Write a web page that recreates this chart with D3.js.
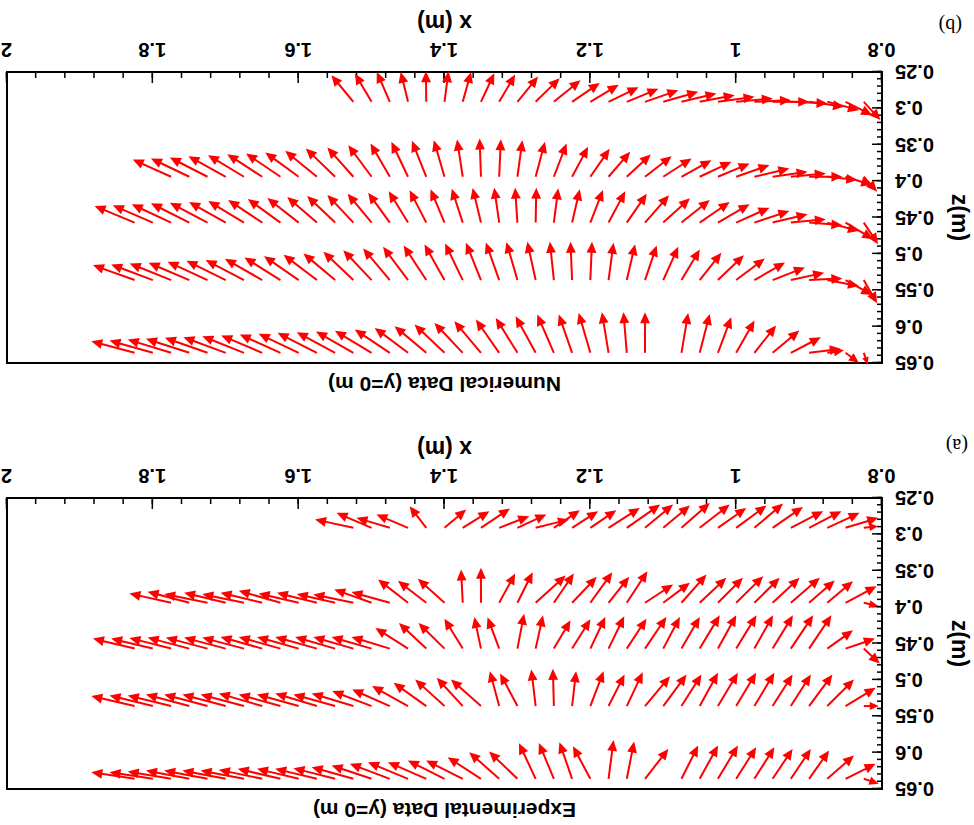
<!DOCTYPE html>
<html>
<head>
<meta charset="utf-8">
<script src="https://cdn.jsdelivr.net/npm/d3@7"></script>
<style>
body { margin: 0; background: #fff; }
svg { display: block; }
.tick line { stroke: #000; stroke-width: 1.5; }
.tick text { font-family: "Liberation Sans", Arial, sans-serif; font-weight: bold; font-size: 20px; fill: #000; }
.ttl { font-family: "Liberation Sans", Arial, sans-serif; font-weight: bold; fill: #000; }
.tag { font-family: "Liberation Serif", "Times New Roman", serif; font-size: 20px; fill: #000; }
</style>
</head>
<body>
<svg id="fig" width="974" height="825"></svg>
<script>
// QUIVER FIGURE : EXPERIMENTAL (a) / NUMERICAL (b) VELOCITY AT y=0


// GRID OF MEASUREMENT POINTS
var xGrid = [1.825, 1.8, 1.775, 1.75, 1.725, 1.7, 1.675, 1.65, 1.625, 1.6, 1.575, 1.55,
	1.525, 1.5, 1.475, 1.45, 1.425, 1.4, 1.375, 1.35, 1.325, 1.3, 1.275, 1.25, 1.225,
	1.2, 1.175, 1.15, 1.125, 1.1, 1.075, 1.05, 1.025, 1.0, 0.975, 0.95, 0.925, 0.9,
	0.875, 0.85, 0.825];
var zRows = [0.291, 0.394, 0.457, 0.536, 0.636];

var xTicks = [0.8, 1, 1.2, 1.4, 1.6, 1.8, 2];
var zTicks = [0.25, 0.3, 0.35, 0.4, 0.45, 0.5, 0.55, 0.6, 0.65];

// VELOCITY [u, w] (m/s) ALONG xGrid, null = no point
var exp1 = [null, null, null, null, null, null, null, null, null, null, null, null,
	[1.15,-0.25],[1.05,-0.45],[1.00,-0.30],[0.95,-0.40],[0.50,-0.65],[-0.65,-0.55],[-0.80,-0.50],
	[-0.87,-0.58],[-0.90,-0.35],[-0.87,-0.40],[-1.00,-0.25],[-0.78,-0.53],[-0.78,-0.50],[-0.78,-0.53],
	[-0.94,-0.60],[-1.00,-0.70],[-0.84,-0.70],[-0.80,-0.67],[-0.85,-0.75],[-0.90,-0.70],[-0.85,-0.60],
	[-0.91,-0.67],[-0.86,-0.73],[-0.91,-0.63],[-0.97,-0.50],[-0.97,-0.50],[-0.97,-0.45],[-0.98,-0.30],
	[-0.43,-0.05]];
var exp2 = [null, null,
	[1.25,-0.28],[1.25,-0.33],[1.30,-0.26],[1.25,-0.30],[1.25,-0.26],[1.25,-0.30],[1.25,-0.36],
	[1.20,-0.28],[1.20,-0.30],[1.15,-0.26],[1.20,-0.25],[1.12,-0.40],[1.15,-0.32],[0.90,-0.70],
	[0.85,-0.66],[0.80,-0.72],[0.05,-1.00],[0.00,-1.05],[-0.48,-0.88],[-0.46,-0.92],[-0.90,-0.82],
	[-0.60,-0.88],[-0.74,-0.78],[-0.66,-0.92],[-0.62,-0.78],[-0.62,-0.95],[-0.84,-0.55],[-0.80,-0.60],
	[-0.75,-0.85],[-0.80,-0.75],[-0.75,-0.75],[-0.81,-0.80],[-0.76,-0.75],[-0.81,-0.75],[-0.87,-0.75],
	[-0.77,-0.67],[-0.77,-0.65],[-0.93,-0.50],[-0.43,0.10]];
var exp3 = [[1.25,-0.30],[1.25,-0.30],[1.25,-0.32],[1.25,-0.33],[1.25,-0.33],[1.25,-0.33],[1.25,-0.33],
	[1.25,-0.35],[1.25,-0.35],[1.25,-0.35],[1.25,-0.35],[1.20,-0.35],[1.20,-0.35],[1.20,-0.35],
	[1.15,-0.35],[0.98,-0.62],[0.82,-0.77],[0.78,-0.77],[0.55,-0.90],[0.20,-0.95],[0.35,-0.94],
	[-0.20,-1.05],[-0.22,-1.00],[-0.50,-0.85],[-0.55,-0.88],[-0.45,-0.95],[-0.47,-0.97],[-0.59,-0.90],
	[-0.64,-0.95],[-0.50,-0.95],[-0.55,-0.95],[-0.60,-1.00],[-0.55,-1.00],[-0.61,-1.00],[-0.56,-1.00],
	[-0.61,-1.00],[-0.67,-1.00],[-0.67,-1.00],[-0.77,-0.55],[-0.88,-0.30],[-0.48,0.45]];
var exp4 = [[1.30,-0.30],[1.30,-0.32],[1.30,-0.32],[1.30,-0.35],[1.30,-0.35],[1.30,-0.35],[1.30,-0.35],
	[1.30,-0.38],[1.25,-0.35],[1.25,-0.35],[1.25,-0.38],[1.25,-0.35],[1.25,-0.38],[1.18,-0.45],
	[1.13,-0.50],[1.08,-0.60],[0.98,-0.70],[0.88,-0.80],[0.78,-0.85],[0.90,-0.80],[0.28,-1.05],
	[0.52,-0.98],[0.13,-1.10],[0.03,-1.12],[-0.12,-1.05],[-0.40,-1.05],[-0.48,-0.95],[-0.48,-1.02],
	[-0.75,-0.90],[-0.70,-0.95],[-0.60,-0.95],[-0.55,-1.00],[-0.60,-1.00],[-0.60,-1.00],[-0.60,-1.00],
	[-0.60,-0.95],[-0.60,-0.95],[-0.70,-0.95],[-0.80,-0.80],[-0.90,-0.55],[-0.45,0.00]];
var exp5 = [[1.30,-0.20],[1.30,-0.20],[1.30,-0.22],[1.30,-0.25],[1.30,-0.25],[1.30,-0.25],[1.30,-0.25],
	[1.30,-0.27],[1.28,-0.30],[1.25,-0.30],[1.25,-0.30],[1.25,-0.32],[1.25,-0.35],[1.20,-0.40],
	[1.20,-0.45],[1.20,-0.50],[1.15,-0.50],[1.10,-0.55],[1.10,-0.55],[1.00,-0.65],[0.90,-0.80],
	[0.85,-0.82],[0.50,-1.07],[0.45,-1.08],[0.38,-1.10],[0.52,-0.98],[-0.15,-1.17],[-0.22,-1.12],
	[-0.70,-0.90],null,[-0.50,-1.00],[-0.55,-1.00],[-0.60,-1.00],[-0.60,-0.95],[-0.60,-0.95],
	[-0.60,-0.90],[-0.60,-0.90],[-0.60,-0.85],[-0.80,-0.70],[-0.90,-0.45],[-0.45,0.15]];

var num1 = [null, null, null, null, null, null, null, null, null, null, null, null,
	[0.66,-0.80],[0.50,-0.85],[0.39,-0.90],[0.22,-0.90],[0.01,-0.92],[-0.12,-0.92],[-0.25,-0.90],
	[-0.40,-0.86],[-0.48,-0.82],[-0.62,-0.76],[-0.72,-0.71],[-0.80,-0.65],[-0.83,-0.57],[-0.85,-0.51],
	[-0.90,-0.44],[-0.95,-0.39],[-1.00,-0.35],[-1.05,-0.30],[-1.05,-0.25],[-1.05,-0.20],[-1.10,-0.15],
	[-1.10,-0.10],[-1.10,-0.05],[-1.10,0.00],[-1.10,0.05],[-1.05,0.15],[-0.95,0.25],[-0.80,0.40],
	[-0.50,0.55]];
var num2 = [null, null,
	[1.15,-0.52],[1.15,-0.55],[1.13,-0.58],[1.12,-0.62],[1.08,-0.65],[1.05,-0.68],[1.03,-0.70],
	[1.00,-0.73],[0.95,-0.78],[0.88,-0.85],[0.78,-0.88],[0.70,-0.95],[0.58,-1.00],[0.50,-1.05],
	[0.43,-1.08],[0.32,-1.10],[0.17,-1.12],[0.04,-1.15],[-0.05,-1.13],[-0.15,-1.10],[-0.28,-1.05],
	[-0.38,-1.00],[-0.48,-0.90],[-0.58,-0.84],[-0.65,-0.75],[-0.72,-0.67],[-0.80,-0.62],[-0.85,-0.55],
	[-0.90,-0.50],[-0.95,-0.45],[-0.95,-0.40],[-1.00,-0.35],[-1.05,-0.25],[-1.05,-0.15],[-1.05,-0.10],
	[-1.00,0.00],[-0.90,0.10],[-0.80,0.25],[-0.40,0.45]];
var num3 = [[1.20,-0.50],[1.20,-0.52],[1.18,-0.55],[1.15,-0.58],[1.13,-0.60],[1.10,-0.62],[1.07,-0.65],
	[1.02,-0.68],[0.98,-0.71],[0.94,-0.74],[0.89,-0.77],[0.84,-0.80],[0.78,-0.83],[0.72,-0.87],
	[0.65,-0.90],[0.58,-0.94],[0.50,-0.97],[0.42,-1.00],[0.33,-1.02],[0.25,-1.04],[0.15,-1.05],
	[0.07,-1.05],[-0.02,-1.05],[-0.13,-1.03],[-0.23,-1.00],[-0.38,-0.98],[-0.50,-0.94],[-0.60,-0.87],
	[-0.72,-0.82],[-0.80,-0.73],[-0.85,-0.68],[-0.90,-0.62],[-0.95,-0.55],[-1.00,-0.45],[-1.05,-0.35],
	[-1.05,-0.25],[-1.05,-0.10],[-1.00,0.08],[-0.95,0.25],[-0.83,0.50],[-0.43,0.65]];
var num4 = [[1.25,-0.45],[1.25,-0.47],[1.24,-0.50],[1.22,-0.52],[1.20,-0.55],[1.18,-0.58],[1.15,-0.60],
	[1.12,-0.64],[1.08,-0.68],[1.04,-0.72],[1.00,-0.76],[0.95,-0.80],[0.90,-0.85],[0.85,-0.90],
	[0.80,-0.95],[0.75,-1.00],[0.68,-1.04],[0.60,-1.07],[0.53,-1.10],[0.45,-1.12],[0.40,-1.13],
	[0.33,-1.14],[0.25,-1.15],[0.12,-1.15],[0.05,-1.15],[-0.05,-1.15],[-0.15,-1.12],[-0.25,-1.08],
	[-0.35,-1.04],[-0.45,-1.00],[-0.55,-0.92],[-0.65,-0.82],[-0.78,-0.75],[-0.86,-0.65],[-0.92,-0.53],
	[-0.97,-0.38],[-1.00,-0.22],[-1.00,-0.05],[-0.95,0.18],[-0.80,0.45],[-0.40,0.70]];
var num5 = [[1.30,-0.35],[1.30,-0.37],[1.30,-0.40],[1.30,-0.42],[1.28,-0.45],[1.27,-0.47],[1.25,-0.50],
	[1.23,-0.52],[1.22,-0.55],[1.20,-0.57],[1.18,-0.60],[1.15,-0.62],[1.12,-0.64],[1.10,-0.66],
	[1.05,-0.70],[1.00,-0.75],[0.95,-0.80],[0.90,-0.85],[0.85,-0.90],[0.80,-0.95],[0.70,-1.00],
	[0.65,-1.05],[0.60,-1.10],[0.50,-1.15],[0.40,-1.15],[0.35,-1.20],[0.20,-1.22],[0.10,-1.22],
	[0.00,-1.22],null,[-0.20,-1.20],[-0.30,-1.17],[-0.40,-1.07],[-0.55,-0.97],[-0.65,-0.82],
	[-0.80,-0.67],[-0.90,-0.47],[-0.95,-0.12],[-0.50,-0.08],[-0.40,0.30],[-0.12,0.35]];


// DRAWING AREA
var plotLeft = 92;
var plotWidth = 875;
var plotHeight = 291;
var arrowScale = 0.0457;   // m of arrow per m/s
var headLen = 11;

var panels = [
	{ title: "Experimental Data (y=0 m)", tag: "(a)", top: 36, tagX: 6, tagDy: 59, rows: [exp1, exp2, exp3, exp4, exp5] },
	{ title: "Numerical Data (y=0 m)", tag: "(b)", top: 462, tagX: 12, tagDy: 53, rows: [num1, num2, num3, num4, num5] }
];

var svg = d3.select("#fig");
svg.append("rect").attr("width", 974).attr("height", 825).attr("fill", "#fff");

// the whole figure is shown upside down
var fig = svg.append("g").attr("transform", "rotate(180,487,412.5)");

var xScale = d3.scaleLinear().domain([0.8, 2]).range([plotLeft, plotLeft + plotWidth]);

panels.forEach(function(p) { drawPanel(p); });

function drawPanel(p) {
	var bottom = p.top + plotHeight;
	var zScale = d3.scaleLinear().domain([0.25, 0.65]).range([bottom, p.top]);
	var g = fig.append("g");

	// MINOR TICKS
	g.append("g")
		.attr("transform", "translate(0," + bottom + ")")
		.call(d3.axisBottom(xScale).tickValues(d3.range(0.8, 2.001, 0.04)).tickFormat("")
			.tickSizeInner(-6).tickSizeOuter(0))
		.select(".domain").remove();
	g.append("g")
		.attr("transform", "translate(" + plotLeft + ",0)")
		.call(d3.axisLeft(zScale).tickValues(d3.range(0.25, 0.6501, 0.01)).tickFormat("")
			.tickSizeInner(-5).tickSizeOuter(0))
		.select(".domain").remove();

	// MAJOR TICKS + LABELS
	g.append("g")
		.attr("transform", "translate(0," + bottom + ")")
		.call(d3.axisBottom(xScale).tickValues(xTicks).tickFormat(d3.format("~g"))
			.tickSizeInner(-11).tickSizeOuter(0).tickPadding(15))
		.select(".domain").remove();
	g.append("g")
		.attr("transform", "translate(" + plotLeft + ",0)")
		.call(d3.axisLeft(zScale).tickValues(zTicks).tickFormat(d3.format("~g"))
			.tickSizeInner(-10).tickSizeOuter(0).tickPadding(13))
		.select(".domain").remove();

	// FRAME
	g.append("rect")
		.attr("x", plotLeft).attr("y", p.top)
		.attr("width", plotWidth).attr("height", plotHeight)
		.attr("fill", "none").attr("stroke", "#000").attr("stroke-width", 2);

	// LABELS
	g.append("text").attr("class", "ttl")
		.attr("x", plotLeft + plotWidth / 2).attr("y", p.top - 14)
		.attr("text-anchor", "middle").style("font-size", "21px")
		.text(p.title);
	g.append("text").attr("class", "ttl")
		.attr("x", plotLeft + plotWidth / 2).attr("y", bottom + 57)
		.attr("text-anchor", "middle").style("font-size", "23px")
		.text("x (m)");
	g.append("text").attr("class", "ttl")
		.attr("transform", "translate(22," + (p.top + plotHeight / 2) + ") rotate(-90)")
		.attr("text-anchor", "middle").style("font-size", "23px")
		.text("z(m)");
	g.append("text").attr("class", "tag")
		.attr("x", p.tagX).attr("y", bottom + p.tagDy)
		.text(p.tag);

	// ARROWS
	var arrows = [];
	p.rows.forEach(function(row, r) {
		row.forEach(function(v, i) {
			if (v === null) { return; }
			var x0 = xGrid[i], z0 = zRows[r];
			arrows.push({
				x0: xScale(x0), y0: zScale(z0),
				x1: xScale(x0 + arrowScale * v[0]), y1: zScale(z0 + arrowScale * v[1])
			});
		});
	});

	var ag = g.append("g");
	ag.selectAll("line")
		.data(arrows)
		.enter()
		.append("line")
		.attr("x1", function(d) { return d.x0; })
		.attr("y1", function(d) { return d.y0; })
		.attr("x2", function(d) { return headBase(d)[0]; })
		.attr("y2", function(d) { return headBase(d)[1]; })
		.attr("stroke", "#ff0000")
		.attr("stroke-width", 2);
	ag.selectAll("path")
		.data(arrows)
		.enter()
		.append("path")
		.attr("d", headPath)
		.attr("fill", "#ff0000");
}

function headSize(d) {
	var dx = d.x1 - d.x0, dy = d.y1 - d.y0;
	var len = Math.sqrt(dx * dx + dy * dy);
	return { ux: dx / len, uy: dy / len, h: Math.min(headLen, len * 0.6) };
}

function headBase(d) {
	var s = headSize(d);
	return [d.x1 - s.ux * s.h * 0.8, d.y1 - s.uy * s.h * 0.8];
}

function headPath(d) {
	var s = headSize(d);
	var bx = d.x1 - s.ux * s.h, by = d.y1 - s.uy * s.h;
	var hw = s.h * 0.45;
	var path = d3.path();
	path.moveTo(d.x1, d.y1);
	path.lineTo(bx - s.uy * hw, by + s.ux * hw);
	path.lineTo(bx + s.uy * hw, by - s.ux * hw);
	path.closePath();
	return path.toString();
}
</script>
</body>
</html>
